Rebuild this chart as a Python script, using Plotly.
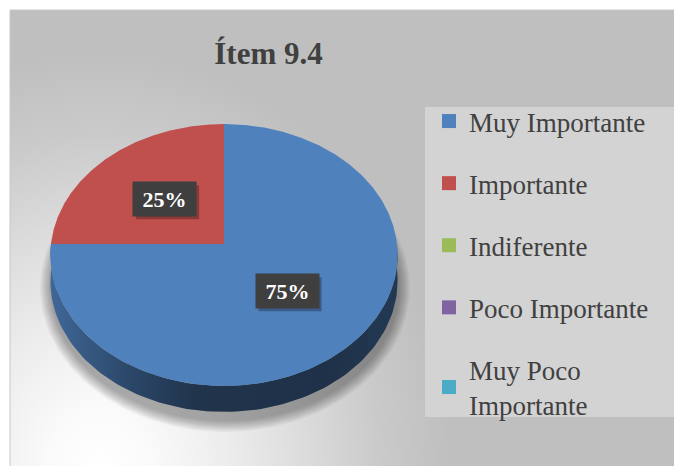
import numpy as np
import plotly.graph_objects as go

# ---- data ----
categories = ["Muy Importante", "Importante", "Indiferente", "Poco Importante", "Muy Poco Importante"]
legend_labels = ["Muy Importante", "Importante", "Indiferente", "Poco Importante", "Muy Poco<br>Importante"]
values = [75, 25, 0, 0, 0]
colors = ["#4f81bd", "#c0504d", "#9bbb59", "#8064a2", "#4bacc6"]
title_text = "Ítem 9.4"

# ---- canvas / pie geometry (pixel-like data space) ----
W, H = 674, 466
ML, MT = 10, 10
CX, CY = 224, 244          # projected centre of the pie's top face
RX, RY = 173, 130          # horizontal / vertical radius of the top face
PERSP = 0.084              # near side drawn slightly larger than far side
DEPTH = 26                 # thickness of the pie
BOX_W, BOX_H = 63, 34      # label box size
SERIF = "Liberation Serif, Times New Roman, serif"


def proj(r, theta_deg):
    """Project polar point (theta clockwise from 12 o'clock) of the tilted disc."""
    t = np.radians(theta_deg)
    u = r * np.sin(t)
    v = r * np.cos(t)
    d = 1 + PERSP * v
    return CX + RX * u / d, CY - RY * v / d


def hex_rgb(c):
    c = c.lstrip("#")
    return tuple(int(c[i:i + 2], 16) for i in (0, 2, 4))


def shade(c, f):
    r, g, b = hex_rgb(c)
    return "rgb(%d,%d,%d)" % (round(r * f), round(g * f), round(b * f))


fig = go.Figure()

# background: soft radial light in the lower-left over a grey field
fig.add_trace(go.Scatter(
    x=[-250, 450, 450, -250, -250], y=[50, 50, 890, 890, 50],
    mode="lines", line=dict(width=0), fill="toself",
    fillgradient=dict(type="radial", colorscale=[
        [0.0, "#ffffff"], [0.15, "#fafafa"], [0.37, "#ececec"],
        [0.57, "#dddddd"], [0.8, "#cacaca"], [1.0, "#bfbfbf"]]),
    hoverinfo="skip", showlegend=False))

# soft drop shadow under the pie
for k in range(10, 0, -1):
    th = np.linspace(0, 360, 181)
    sx = CX + 1 + (RX + k * 1.2) * np.sin(np.radians(th))
    sy = CY + 44 + (RY + 2 + k * 1.2) * np.cos(np.radians(th))
    fig.add_trace(go.Scatter(
        x=sx, y=sy, mode="lines", line=dict(width=0), fill="toself",
        fillcolor="rgba(0,0,0,0.035)", hoverinfo="skip", showlegend=False))

total = float(sum(values))
angles = []
start = 0.0
for v in values:
    span = 360.0 * v / total
    angles.append((start, start + span))
    start += span

# pie side wall (only the near half is visible)
for (a0, a1), v, c in zip(angles, values, colors):
    lo, hi = max(a0, 90.0), min(a1, 270.0)
    if v <= 0 or hi <= lo:
        continue
    th = np.linspace(lo, hi, 120)
    tx, ty = proj(1.0, th)
    xs = np.concatenate([tx, tx[::-1], tx[:1]])
    ys = np.concatenate([ty, ty[::-1] + DEPTH, ty[:1]])
    fig.add_trace(go.Scatter(
        x=xs, y=ys, mode="lines", line=dict(width=0), fill="toself",
        fillgradient=dict(type="horizontal", start=CX - RX, stop=CX + RX,
                          colorscale=[[0.0, shade(c, 0.80)], [0.23, shade(c, 0.55)],
                                      [0.42, shade(c, 0.40)], [0.8, shade(c, 0.38)],
                                      [1.0, shade(c, 0.44)]]),
        hoverinfo="skip", showlegend=False))

# pie top face slices
for (a0, a1), v, c, name in zip(angles, values, colors, categories):
    if v <= 0:
        continue
    th = np.linspace(a0, a1, max(int(a1 - a0) * 2, 4))
    px, py = proj(1.0, th)
    xs = np.concatenate([[CX], px, [CX]])
    ys = np.concatenate([[CY], py, [CY]])
    fig.add_trace(go.Scatter(
        x=xs, y=ys, mode="lines", line=dict(width=0), fill="toself",
        fillcolor=c, name=name, hoverinfo="name", showlegend=False))

# legend entries (one per category)
for lab, c, name in zip(legend_labels, colors, categories):
    fig.add_trace(go.Scatter(
        x=[None], y=[None], mode="markers", name=lab, legendgroup=name,
        marker=dict(symbol="square", size=14, color=c, line=dict(width=0)),
        showlegend=True))

# percentage labels on dark boxes (with a small drop shadow)
annotations = []
shapes = []
for (a0, a1), v in zip(angles, values):
    if v <= 0:
        continue
    lx, ly = proj(0.5, (a0 + a1) / 2.0)
    lx, ly = float(lx), float(ly)
    pct = "%d%%" % round(100 * v / total)
    shapes.append(dict(
        type="rect", xref="x", yref="y", layer="above",
        x0=lx - BOX_W / 2 + 3, x1=lx + BOX_W / 2 + 3,
        y0=ly - BOX_H / 2 + 3, y1=ly + BOX_H / 2 + 3,
        fillcolor="rgba(0,0,0,0.28)", line=dict(width=0)))
    annotations.append(dict(
        x=lx, y=ly, xref="x", yref="y", text="<b>%s</b>" % pct,
        showarrow=False, width=BOX_W, height=BOX_H, borderpad=0, bgcolor="#3f3f3f",
        font=dict(color="#ffffff", size=22, family=SERIF)))

shapes += [
    dict(type="rect", xref="x", yref="y", x0=425, x1=W + 2, y0=107, y1=417,
         fillcolor="#d3d3d3", line=dict(width=0), layer="above"),
    dict(type="rect", xref="paper", yref="paper", x0=0, x1=1.01, y0=-0.01, y1=1,
         fillcolor="rgba(0,0,0,0)", line=dict(color="#c8c8c8", width=1)),
]

fig.update_layout(
    width=W, height=H,
    margin=dict(l=ML, t=MT, r=0, b=0, pad=0),
    paper_bgcolor="#ffffff", plot_bgcolor="#bfbfbf",
    xaxis=dict(range=[ML, W], visible=False, fixedrange=True),
    yaxis=dict(range=[H, MT], visible=False, fixedrange=True),
    title=dict(text="<b>%s</b>" % title_text, x=(268.5 - ML) / (W - ML), xref="paper",
               xanchor="center", y=1 - 53 / H, yanchor="middle",
               font=dict(family=SERIF, size=31, color="#404040")),
    legend=dict(x=(429 - ML) / (W - ML), xanchor="left", y=(H - 97) / (H - MT), yanchor="top",
                bgcolor="rgba(0,0,0,0)", tracegroupgap=24,
                font=dict(family=SERIF, size=27, color="#404040"),
                itemclick=False, itemdoubleclick=False),
    shapes=shapes,
    annotations=annotations,
    hovermode=False,
    showlegend=True,
)

fig.write_html("out.html", config={"displayModeBar": False})
